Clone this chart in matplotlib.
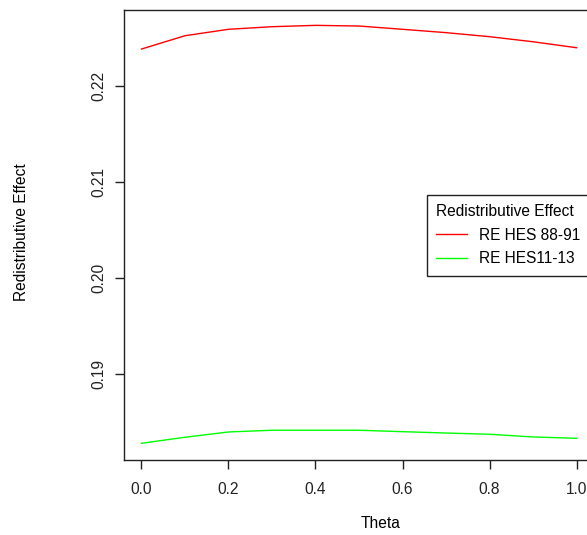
import matplotlib
matplotlib.use("Agg")
import matplotlib.pyplot as plt

plt.rcParams['font.family'] = ['Liberation Sans', 'DejaVu Sans']

# データ
theta = [0.0, 0.1, 0.2, 0.3, 0.4, 0.5, 0.6, 0.7, 0.8, 0.9, 1.0]
re_hes_88_91 = [0.22385, 0.22524, 0.22591, 0.22618, 0.22632, 0.22625,
                0.22591, 0.22556, 0.22514, 0.22461, 0.22399]
re_hes_11_13 = [0.18278, 0.18341, 0.18396, 0.18414, 0.18414, 0.18414,
                0.18399, 0.18385, 0.18372, 0.18344, 0.18330]
x_ticks = [0.0, 0.2, 0.4, 0.6, 0.8, 1.0]
y_ticks = [0.19, 0.20, 0.21, 0.22]

W, H = 587, 535
FS = 11.2
fig = plt.figure(figsize=(W / 100, H / 100), dpi=100)
# 右側は元画像で切れているので、軸を図の外まで伸ばす
ax = fig.add_axes([124 / W, 1 - 460 / H, (594 - 124) / W, (460 - 10) / H])

ax.plot(theta, re_hes_88_91, color='#FF0000', linewidth=1.0, label='RE HES 88-91')
ax.plot(theta, re_hes_11_13, color='#00FF00', linewidth=1.0, label='RE HES11-13')

ax.set_xlim(-0.04, 1.04)
ax.set_ylim(0.18104, 0.22792)
ax.set_xticks(x_ticks)
ax.set_xticklabels([f'{v:.1f}' for v in x_ticks])
ax.set_yticks(y_ticks)
ax.set_yticklabels([f'{v:.2f}' for v in y_ticks], rotation=90, va='center')

for s in ax.spines.values():
    s.set_linewidth(1.0)
    s.set_color('#222222')
ax.tick_params(axis='both', direction='out', length=6.5, width=1.0,
               labelsize=FS, colors='#222222')
ax.tick_params(axis='x', pad=9)
ax.tick_params(axis='y', pad=6)

fig.text(381 / W, 1 - 524 / H, 'Theta', ha='center', va='center', fontsize=FS)
fig.text(22 / W, 1 - 232 / H, 'Redistributive Effect', ha='center', va='center',
         rotation=90, fontsize=FS)

leg = ax.legend(loc='upper left', bbox_to_anchor=(427 / W, 1 - 195 / H),
                bbox_transform=fig.transFigure, title='Redistributive Effect',
                fontsize=FS, title_fontsize=FS, alignment='left',
                fancybox=False, framealpha=1, edgecolor='#222222',
                handlelength=2.0, handletextpad=0.77, borderpad=0.6,
                labelspacing=0.55, borderaxespad=0)
leg.get_frame().set_linewidth(1.0)

fig.savefig('out.png', dpi=100)
plt.close(fig)
